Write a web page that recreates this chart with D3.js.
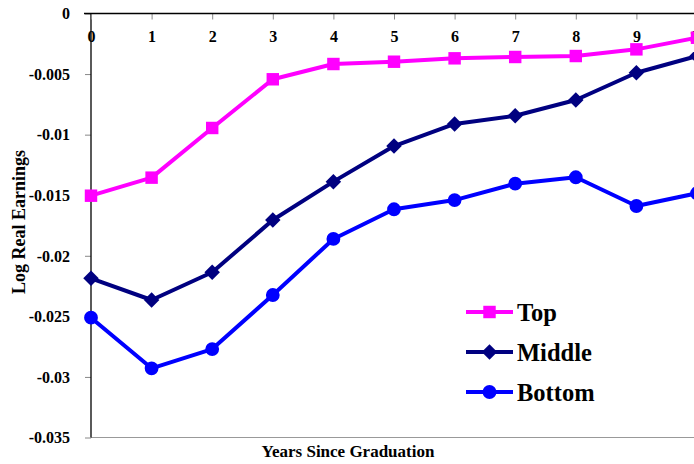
<!DOCTYPE html>
<html><head><meta charset="utf-8">
<script src="https://cdn.jsdelivr.net/npm/d3@7"></script>
<style>body{margin:0;background:#fff}svg{display:block}
svg text{font-family:"Liberation Serif","Times New Roman","DejaVu Serif",serif;font-weight:bold;fill:#000}</style>
</head><body>
<svg id="c" width="694" height="464"></svg>
<script>
const years = [0,1,2,3,4,5,6,7,8,9,10];
const topVals = [-0.01504,-0.01355,-0.00945,-0.00543,-0.00417,-0.00398,-0.0037,-0.00359,-0.00351,-0.00296,-0.0020];
const middleVals = [-0.02186,-0.02365,-0.02136,-0.01705,-0.01388,-0.01094,-0.00912,-0.00844,-0.00714,-0.00489,-0.00351];
const bottomVals = [-0.02511,-0.02929,-0.0277,-0.02324,-0.01861,-0.01616,-0.0154,-0.01405,-0.01352,-0.01589,-0.01484];
const yTicks = [0,-0.005,-0.01,-0.015,-0.02,-0.025,-0.03,-0.035];
const yTickLabels = ["0","-0.005","-0.01","-0.015","-0.02","-0.025","-0.03","-0.035"];
const seriesNames = ["Top","Middle","Bottom"];
const seriesColors = ["#FF00FF","#000080","#0000FF"];
const seriesSymbols = [d3.symbolSquare, d3.symbolSquare, d3.symbolCircle];
const seriesRotate = [0, 45, 0];
const sizes = [155, 120, 150];

const svg = d3.select("#c");
const x = d3.scaleLinear().domain([0,10]).range([91,697]);
const y = d3.scaleLinear().domain([-0.035,0]).range([437.5,13.5]);

// bottom gray border
svg.append("line").attr("x1",91).attr("x2",694).attr("y1",y(-0.035)).attr("y2",y(-0.035)).attr("stroke","#999").attr("stroke-width",1);

// y axis
const ya = svg.append("g").attr("transform","translate(91,0)")
  .call(d3.axisLeft(y).tickValues(yTicks).tickFormat((d,i)=>yTickLabels[i]).tickSize(6).tickPadding(15));
ya.select(".domain").remove();
ya.selectAll(".tick line").attr("stroke","#888");
ya.selectAll("text").attr("font-family",null).style("font-size","16px").attr("dy","0.33em");
svg.append("line").attr("x1",91).attr("x2",91).attr("y1",13.5).attr("y2",437.5).attr("stroke","#000").attr("stroke-width",1.3);

// x axis at top
const xa = svg.append("g").attr("transform","translate(0,"+y(0)+")")
  .call(d3.axisBottom(x).tickValues(years).tickFormat(d3.format("d")).tickSize(6).tickPadding(11));
xa.select(".domain").remove();
xa.selectAll(".tick line").attr("stroke","#888");
xa.selectAll("text").attr("font-family",null).style("font-size","16px");
svg.append("line").attr("x1",84).attr("x2",694).attr("y1",y(0)).attr("y2",y(0)).attr("stroke","#000").attr("stroke-width",1.3);

// axis titles
svg.append("text").attr("transform","translate(25,222) rotate(-90)").attr("text-anchor","middle")
  .style("font-size","18px").text("Log Real Earnings");
svg.append("text").attr("x",348).attr("y",457).attr("text-anchor","middle")
  .style("font-size","17px").text("Years Since Graduation");

const data = [topVals, middleVals, bottomVals];
const line = d3.line().x((d,i)=>x(years[i])).y(d=>y(d));
data.forEach((vals,k)=>{
  svg.append("path").attr("d",line(vals)).attr("fill","none").attr("stroke",seriesColors[k]).attr("stroke-width",4).attr("stroke-linejoin","round");
  svg.selectAll(null).data(vals).enter().append("path")
    .attr("transform",(d,i)=>"translate("+x(years[i])+","+y(d)+") rotate("+seriesRotate[k]+")")
    .attr("d",d3.symbol().type(seriesSymbols[k]).size(sizes[k])).attr("fill",seriesColors[k]);
});

// legend
const legY = [312, 352, 392];
seriesNames.forEach((n,k)=>{
  const g = svg.append("g").attr("transform","translate(0,"+legY[k]+")");
  g.append("line").attr("x1",466).attr("x2",513).attr("y1",0).attr("y2",0).attr("stroke",seriesColors[k]).attr("stroke-width",4);
  g.append("path").attr("transform","translate(489.5,0) rotate("+seriesRotate[k]+")").attr("d",d3.symbol().type(seriesSymbols[k]).size(sizes[k])).attr("fill",seriesColors[k]);
  g.append("text").attr("x",517).attr("y",8.5).style("font-size","24.5px").text(n);
});
</script>
</body></html>
